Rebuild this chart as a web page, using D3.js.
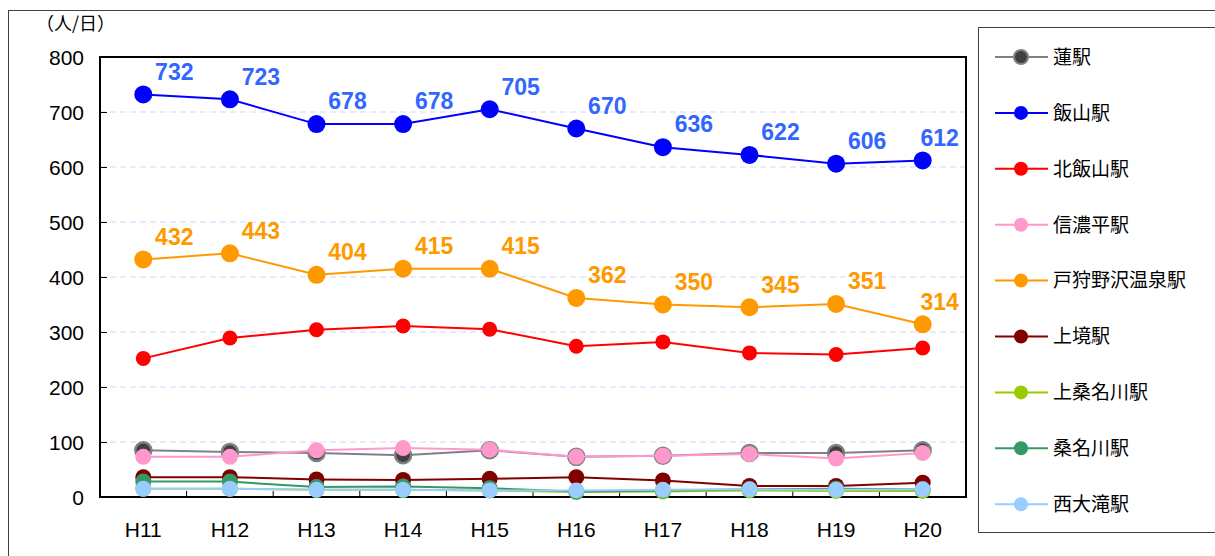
<!DOCTYPE html>
<html>
<head>
<meta charset="utf-8">
<script src="https://d3js.org/d3.v7.min.js"></script>
<style>
  body { margin: 0; background: #fff; }
  svg text { font-family: "Noto Sans CJK JP", "Liberation Sans", sans-serif; }
  svg text.num { font-family: "Liberation Sans", "DejaVu Sans", sans-serif; }
</style>
</head>
<body>
<svg width="1215" height="556"></svg>
<script>

// years (Heisei)
var years = ['H11','H12','H13','H14','H15','H16','H17','H18','H19','H20'];

// passengers per day
var hasu       = [85, 82, 80, 76, 85, 73, 75, 80, 80, 85];
var iiyama     = [732, 723, 678, 678, 705, 670, 636, 622, 606, 612];
var kitaIiyama = [252, 289, 304, 311, 305, 274, 282, 262, 259, 271];
var shinanoDaira = [73, 73, 85, 89, 86, 73, 75, 78, 70, 80];
var togari     = [432, 443, 404, 415, 415, 362, 350, 345, 351, 314];
var kamisakai  = [36, 36, 32, 31, 33, 36, 30, 20, 20, 26];
var kamiKuwanagawa = [15, 15, 13, 13, 12, 9, 10, 12, 11, 11];
var kuwanagawa = [28, 28, 18, 19, 16, 10, 12, 14, 15, 14];
var nishiOtaki = [15, 15, 13, 13, 12, 12, 13, 14, 13, 14];

var yTicks = [0, 100, 200, 300, 400, 500, 600, 700, 800];

var series = [
  {name:'蓮駅', values:hasu, line:'#808080', fill:'#404040', stroke:'#808080', r:8},
  {name:'飯山駅', values:iiyama, line:'#0000ff', fill:'#0000ff', r:9, label:'#3366ff'},
  {name:'北飯山駅', values:kitaIiyama, line:'#ff0000', fill:'#ff0000', r:7.5},
  {name:'信濃平駅', values:shinanoDaira, line:'#ff99cc', fill:'#ff99cc', r:8},
  {name:'戸狩野沢温泉駅', values:togari, line:'#ff9900', fill:'#ff9900', r:9, label:'#ff9900'},
  {name:'上境駅', values:kamisakai, line:'#800000', fill:'#800000', r:8},
  {name:'上桑名川駅', values:kamiKuwanagawa, line:'#99cc00', fill:'#99cc00', r:8},
  {name:'桑名川駅', values:kuwanagawa, line:'#339966', fill:'#339966', r:8},
  {name:'西大滝駅', values:nishiOtaki, line:'#99ccff', fill:'#99ccff', r:8}
];

var svg = d3.select('svg');

// outer frame
svg.append('rect')
  .attr('x', 8.5).attr('y', 10.5)
  .attr('width', 1230).attr('height', 560)
  .attr('fill', 'none').attr('stroke', '#404040').attr('stroke-width', 1);

var plot = {left: 100, top: 57, right: 966, bottom: 497};

var x = d3.scaleBand().domain(years).range([plot.left, plot.right]);
var y = d3.scaleLinear().domain([0, 800]).range([plot.bottom, plot.top]);

// grid lines
svg.append('g')
  .selectAll('line')
  .data(yTicks.filter(function(d) { return d > 0 && d < 800; }))
  .enter().append('line')
  .attr('x1', plot.left).attr('x2', plot.right)
  .attr('y1', function(d) { return y(d); })
  .attr('y2', function(d) { return y(d); })
  .attr('stroke', '#d4d4ff').attr('stroke-dasharray', '6,4');

// y axis (ticks inside)
var yAxis = svg.append('g')
  .attr('transform', 'translate(' + plot.left + ',0)')
  .call(d3.axisRight(y).tickValues(yTicks).tickSize(7).tickFormat(''));
yAxis.select('.domain').remove();
yAxis.selectAll('line').attr('stroke', '#000');

// y tick labels
svg.append('g')
  .selectAll('text')
  .data(yTicks)
  .enter().append('text')
  .attr('class', 'num')
  .attr('x', 84)
  .attr('y', function(d) { return y(d); })
  .attr('dy', '0.36em')
  .attr('text-anchor', 'end')
  .style('font-size', '21px')
  .text(function(d) { return d; });

// x axis ticks at band boundaries, pointing up
svg.append('g')
  .selectAll('line')
  .data(years.slice(1))
  .enter().append('line')
  .attr('x1', function(d) { return x(d); })
  .attr('x2', function(d) { return x(d); })
  .attr('y1', plot.bottom).attr('y2', plot.bottom - 6)
  .attr('stroke', '#000');

// x labels
svg.append('g')
  .selectAll('text')
  .data(years)
  .enter().append('text')
  .attr('class', 'num')
  .attr('x', function(d) { return x(d) + x.bandwidth() / 2; })
  .attr('y', 537)
  .attr('text-anchor', 'middle')
  .style('font-size', '21px')
  .text(function(d) { return d; });

// plot frame
svg.append('rect')
  .attr('x', plot.left).attr('y', plot.top)
  .attr('width', plot.right - plot.left).attr('height', plot.bottom - plot.top)
  .attr('fill', 'none').attr('stroke', '#000').attr('stroke-width', 2);

// unit label
svg.append('text')
  .attr('x', 36).attr('y', 30)
  .style('font-size', '18px')
  .text('（人/日）');

// lines and markers
var line = d3.line()
  .x(function(d, i) { return x(years[i]) + x.bandwidth() / 2; })
  .y(function(d) { return y(d); });

series.forEach(function(s) {
  var g = svg.append('g');
  g.append('path')
    .attr('d', line(s.values))
    .attr('fill', 'none')
    .attr('stroke', s.line)
    .attr('stroke-width', 2);
  g.selectAll('circle')
    .data(s.values)
    .enter().append('circle')
    .attr('cx', function(d, i) { return x(years[i]) + x.bandwidth() / 2; })
    .attr('cy', function(d) { return y(d); })
    .attr('r', s.r)
    .attr('fill', s.fill)
    .attr('stroke', s.stroke || 'none')
    .attr('stroke-width', s.stroke ? 2.5 : 0);
});

// value labels
series.filter(function(s) { return s.label; }).forEach(function(s) {
  svg.append('g')
    .selectAll('text')
    .data(s.values)
    .enter().append('text')
    .attr('class', 'num')
    .attr('x', function(d, i) {
      var cx = x(years[i]) + x.bandwidth() / 2;
      return i === years.length - 1 ? cx + 17 : cx + 31;
    })
    .attr('y', function(d) { return y(d) - 23; })
    .attr('dy', '0.36em')
    .attr('text-anchor', 'middle')
    .attr('fill', s.label)
    .style('font-size', '23px')
    .style('font-weight', 'bold')
    .text(function(d) { return d; });
});

// legend
svg.append('rect')
  .attr('x', 978.5).attr('y', 27.5)
  .attr('width', 260).attr('height', 505)
  .attr('fill', '#fff').attr('stroke', '#404040').attr('stroke-width', 1);

var legend = svg.append('g')
  .selectAll('g')
  .data(series)
  .enter().append('g')
  .attr('transform', function(d, i) { return 'translate(0,' + (57 + i * 55.9) + ')'; });

legend.append('line')
  .attr('x1', 995).attr('x2', 1048)
  .attr('stroke', function(d) { return d.line; })
  .attr('stroke-width', 2);
legend.append('circle')
  .attr('cx', 1021).attr('r', 7)
  .attr('fill', function(d) { return d.fill; })
  .attr('stroke', function(d) { return d.stroke || 'none'; })
  .attr('stroke-width', 2);
legend.append('text')
  .attr('x', 1053).attr('dy', '0.36em')
  .style('font-size', '19px')
  .text(function(d) { return d.name; });

</script>
</body>
</html>
